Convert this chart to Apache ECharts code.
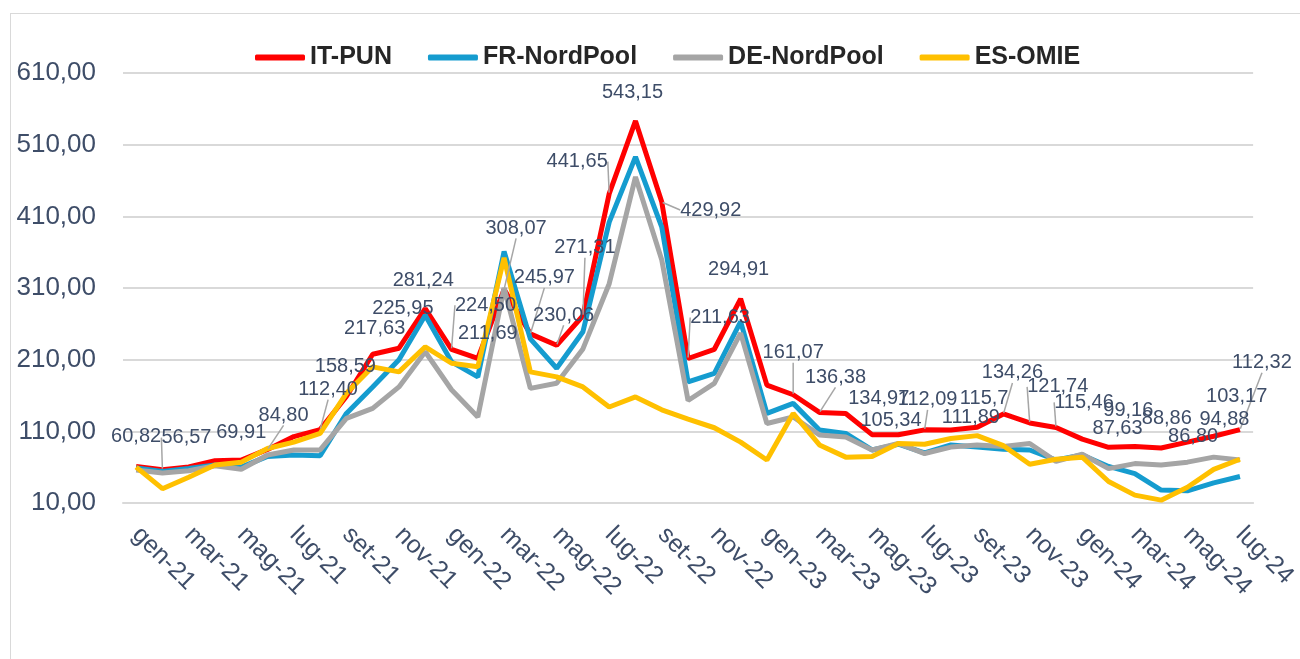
<!DOCTYPE html>
<html>
<head>
<meta charset="utf-8">
<title>Prezzi energia elettrica</title>
<script src="https://cdn.jsdelivr.net/npm/echarts@6/dist/echarts.min.js"></script>
<style>
  html, body { margin: 0; padding: 0; background: #fff; }
  .frame {
    position: absolute; left: 10px; top: 13px;
    width: 1300px; height: 660px;
    border: 1px solid #d9d9d9; box-sizing: border-box;
  }
  #chart { position: absolute; left: 0; top: 0; width: 1300px; height: 659px; }
</style>
</head>
<body>
<div class="frame"></div>
<div id="chart"></div>
<script>
// mesi gen-21 .. lug-24
const months = [
  'gen-21', 'feb-21', 'mar-21', 'apr-21', 'mag-21', 'giu-21', 'lug-21', 'ago-21', 'set-21', 'ott-21', 'nov-21', 'dic-21',
  'gen-22', 'feb-22', 'mar-22', 'apr-22', 'mag-22', 'giu-22', 'lug-22', 'ago-22', 'set-22', 'ott-22', 'nov-22', 'dic-22',
  'gen-23', 'feb-23', 'mar-23', 'apr-23', 'mag-23', 'giu-23', 'lug-23', 'ago-23', 'set-23', 'ott-23', 'nov-23', 'dic-23',
  'gen-24', 'feb-24', 'mar-24', 'apr-24', 'mag-24', 'giu-24', 'lug-24'
]

const itPun = [
  60.82, 56.57, 60.41, 69.02, 69.91, 84.80, 102.65, 112.40, 158.59, 217.63, 225.95, 281.24,
  224.50, 211.69, 308.07, 245.97, 230.06, 271.31, 441.65, 543.15, 429.92, 211.63, 224.50, 294.91,
  174.49, 161.07, 136.38, 134.97, 105.34, 105.28, 112.09, 111.89, 115.70, 134.26, 121.74, 115.46,
  99.16, 87.63, 88.86, 86.80, 94.88, 103.17, 112.32
]
const frNordPool = [
  59, 54, 58, 63, 60, 75, 77, 76, 135, 172, 210, 272,
  207, 186, 361, 239, 198, 249, 402, 493, 395, 179, 191, 263,
  135, 149, 112, 107, 84, 92, 80, 91, 88, 85, 84, 70,
  77, 61, 51, 28, 27, 38, 47
]
const deNordPool = [
  56, 52, 55, 62, 57, 77, 84, 84, 128, 142, 172, 221,
  168, 130, 310, 170, 177, 225, 316, 465, 349, 153, 177, 247,
  121, 130, 105, 102, 84, 93, 79, 88, 91, 89, 93, 68,
  78, 58, 65, 63, 67, 74, 70
]
const esOmie = [
  60, 30, 46, 63, 67, 86, 95, 107, 163, 200, 193, 228,
  205, 200, 352, 193, 186, 172, 144, 158, 140, 127, 115, 95,
  70, 135, 91, 74, 75, 93, 92, 100, 104, 90, 64, 71,
  74, 40, 21, 14, 32, 57, 71
]

// etichette dati IT-PUN come nel grafico (null = non mostrata)
const punLabels = [
  '60,82', '56,57', null, null, '69,91', '84,80', null, '112,40', '158,59', '217,63', '225,95', '281,24',
  '224,50', '211,69', '308,07', '245,97', '230,06', '271,31', '441,65', '543,15', '429,92', '211,63', null, '294,91',
  null, '161,07', '136,38', '134,97', '105,34', null, '112,09', '111,89', '115,7', '134,26', '121,74', '115,46',
  '99,16', '87,63', '88,86', '86,80', '94,88', '103,17', '112,32'
]

// spostamento etichette (centro etichetta rispetto al punto)
const labelShift = [
  [0, -30], [24, -32], [0, 0], [0, 0], [0, -28], [16, -34], [0, 0], [8, -40], [-1, -30], [2, -26], [4, -40], [-2, -28],
  [34, -44], [10, -25], [12, -61], [14, -56], [7, -30], [2, -68], [-32, -32], [-3, -28], [49, 8], [32, -41], [0, 0], [-2, -29],
  [0, 0], [0, -42], [16, -35], [33, -15], [19, -14], [0, 0], [3, -30], [20, -12], [7, -29], [9, -41], [28, -36], [28, -25],
  [46, -29], [9, -19], [32, -28], [32, -11], [37, -23], [23, -40], [22, -67]
]
const leaderIdx = [1, 5, 7, 12, 14, 15, 16, 17, 18, 20, 21, 25, 26, 30, 33, 34, 35, 42]

const chart = echarts.init(document.getElementById('chart'))

const textColor = '#3e4d68'
const font = 'Liberation Sans, Arial, sans-serif'

const lineSeries = (name, data, color) => ({
  name,
  type: 'line',
  data,
  showSymbol: false,
  symbol: 'none',
  lineStyle: { color, width: 5 },
  itemStyle: { color }
})

const labelData = itPun.map((v, i) => ({
  value: v,
  label: { show: punLabels[i] != null, formatter: punLabels[i] || '' },
  labelLine: { show: leaderIdx.includes(i) }
}))

const option = {
  animation: false,
  backgroundColor: 'transparent',
  legend: {
    data: ['IT-PUN', 'FR-NordPool', 'DE-NordPool', 'ES-OMIE'],
    left: 250,
    top: 40,
    icon: 'roundRect',
    itemWidth: 50,
    itemHeight: 6,
    itemGap: 36,
    textStyle: { color: '#262626', fontSize: 25, fontWeight: 'bold', fontFamily: font }
  },
  grid: { left: 123, right: 41, top: 73, bottom: 156, containLabel: false },
  xAxis: {
    type: 'category',
    data: months,
    boundaryGap: true,
    axisLine: { show: true, lineStyle: { color: '#d9d9d9', width: 2 } },
    axisTick: { show: false },
    axisLabel: {
      interval: 1,
      rotate: -45,
      margin: 28,
      color: textColor,
      fontSize: 25,
      fontFamily: font
    }
  },
  yAxis: {
    type: 'value',
    min: 10,
    max: 610,
    interval: 100,
    axisLine: { show: false },
    axisTick: { show: false },
    splitLine: { lineStyle: { color: '#d9d9d9', width: 2 } },
    axisLabel: {
      margin: 27,
      color: textColor,
      fontSize: 26,
      fontFamily: font,
      formatter: v => v.toFixed(2).replace('.', ',')
    }
  },
  series: [
    lineSeries('IT-PUN', itPun, '#ff0000'),
    lineSeries('FR-NordPool', frNordPool, '#159ccf'),
    lineSeries('DE-NordPool', deNordPool, '#a5a5a5'),
    lineSeries('ES-OMIE', esOmie, '#ffc000'),
    {
      // solo etichette IT-PUN, disegnate sopra le linee
      name: 'etichette',
      type: 'line',
      data: labelData,
      symbol: 'circle',
      symbolSize: 2,
      showSymbol: true,
      lineStyle: { width: 0, opacity: 0 },
      itemStyle: { color: 'rgba(0,0,0,0)' },
      label: {
        show: true,
        color: textColor,
        fontSize: 20,
        fontFamily: font
      },
      labelLine: { show: false, lineStyle: { color: '#a6a6a6', width: 1.5 } },
      labelLayout: params => {
        const s = labelShift[params.dataIndex]
        const cx = params.rect.x + params.rect.width / 2
        const cy = params.rect.y + params.rect.height / 2
        return { x: cx + s[0], y: cy + s[1], align: 'center', verticalAlign: 'middle' }
      },
      z: 5
    }
  ]
}

chart.setOption(option)
</script>
</body>
</html>
